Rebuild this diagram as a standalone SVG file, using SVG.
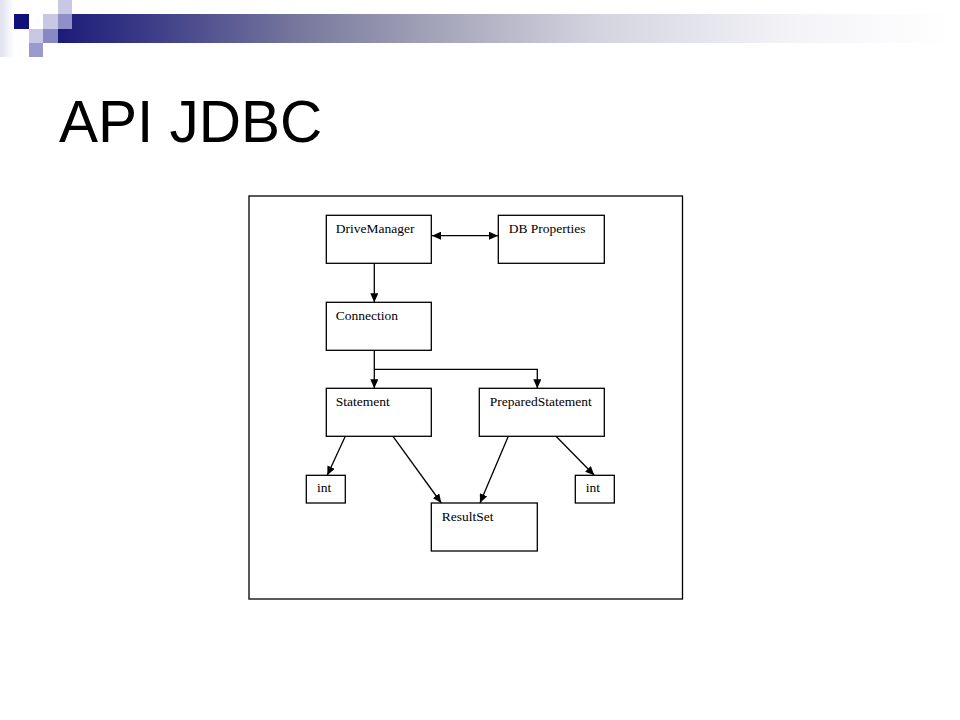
<svg xmlns="http://www.w3.org/2000/svg" width="960" height="720" viewBox="0 0 960 720">
<defs>
<linearGradient id="bar" gradientUnits="userSpaceOnUse" x1="58" y1="0" x2="950" y2="0">
<stop offset="0" stop-color="#1c1c78"/>
<stop offset="0.103" stop-color="#3c3c88"/>
<stop offset="0.271" stop-color="#78789e"/>
<stop offset="0.439" stop-color="#a8a8bc"/>
<stop offset="0.607" stop-color="#d4d4e0"/>
<stop offset="0.83" stop-color="#f4f4f8"/>
<stop offset="1" stop-color="#ffffff"/>
</linearGradient>
<linearGradient id="pale" x1="0" y1="0" x2="1" y2="0">
<stop offset="0" stop-color="#d8d8ec"/>
<stop offset="1" stop-color="#ffffff"/>
</linearGradient>
<marker id="ah" viewBox="0 0 10 10" refX="10" refY="5" markerWidth="9" markerHeight="8" markerUnits="userSpaceOnUse" orient="auto-start-reverse" preserveAspectRatio="none">
<path d="M0,0 L10,5 L0,10 z" fill="#000"/>
</marker>
<style>
.box{fill:#fff;stroke:#000;stroke-width:1.3}
.lbl{font-family:"Liberation Serif","Times New Roman",serif;font-size:13.5px;fill:#000}
.con{fill:none;stroke:#000;stroke-width:1.3}
</style>
</defs>
<rect width="960" height="720" fill="#fff"/>
<g id="header">
<rect x="0" y="0" width="14" height="57" fill="url(#pale)" opacity="0.8"/>
<rect x="58" y="14" width="892" height="29" fill="url(#bar)"/>
<rect x="14" y="14" width="15" height="15" fill="#10107c"/>
<rect x="43" y="14" width="15" height="15" fill="#c8c8e4"/>
<rect x="58" y="0" width="14" height="14" fill="#c8c8e4"/>
<rect x="58" y="14" width="14" height="15" fill="#9090c8"/>
<rect x="29" y="29" width="14" height="14" fill="#c8c8e4"/>
<rect x="43" y="29" width="15" height="14" fill="#8888c4"/>
<rect x="29" y="43" width="14" height="14" fill="#9a9acc"/>
</g>
<text x="59" y="141.7" font-family="'Liberation Sans',Arial,sans-serif" font-size="58.5" fill="#000">API JDBC</text>
<rect id="frame" x="249" y="196" width="433.5" height="403" fill="none" stroke="#000" stroke-width="1.3"/>
<g id="connectors">
<path class="con" d="M432,235.7 L498,235.7" marker-start="url(#ah)" marker-end="url(#ah)"/>
<path class="con" d="M374.3,263.3 L374.3,302.3" marker-end="url(#ah)"/>
<path class="con" d="M374.3,350.3 L374.3,388.3" marker-end="url(#ah)"/>
<path class="con" d="M374.3,369.3 L537.3,369.3 L537.3,388.3" marker-end="url(#ah)"/>
<path class="con" d="M345.3,436.3 L327.3,475.3" marker-end="url(#ah)"/>
<path class="con" d="M393,436.3 L441.3,503" marker-end="url(#ah)"/>
<path class="con" d="M508.3,436.3 L480,503" marker-end="url(#ah)"/>
<path class="con" d="M556,436.3 L594.3,475.3" marker-end="url(#ah)"/>
</g>
<g id="drivemanager"><rect class="box" x="326.3" y="215.3" width="105" height="48"/><text class="lbl" x="335.7" y="233">DriveManager</text></g>
<g id="dbproperties"><rect class="box" x="498.3" y="215.3" width="106" height="48"/><text class="lbl" x="508.7" y="233">DB Properties</text></g>
<g id="connection"><rect class="box" x="326.3" y="302.3" width="105" height="48"/><text class="lbl" x="335.7" y="320">Connection</text></g>
<g id="statement"><rect class="box" x="326.3" y="388.3" width="105" height="48"/><text class="lbl" x="335.7" y="406">Statement</text></g>
<g id="preparedstatement"><rect class="box" x="479.3" y="388.3" width="125" height="48"/><text class="lbl" x="489.7" y="406">PreparedStatement</text></g>
<g id="int1"><rect class="box" x="306.3" y="475.3" width="39" height="27.7"/><text class="lbl" x="317" y="492">int</text></g>
<g id="int2"><rect class="box" x="575.3" y="475.3" width="39" height="27.7"/><text class="lbl" x="585.7" y="492">int</text></g>
<g id="resultset"><rect class="box" x="431.3" y="503" width="106" height="48"/><text class="lbl" x="441.7" y="520.7">ResultSet</text></g>
</svg>
